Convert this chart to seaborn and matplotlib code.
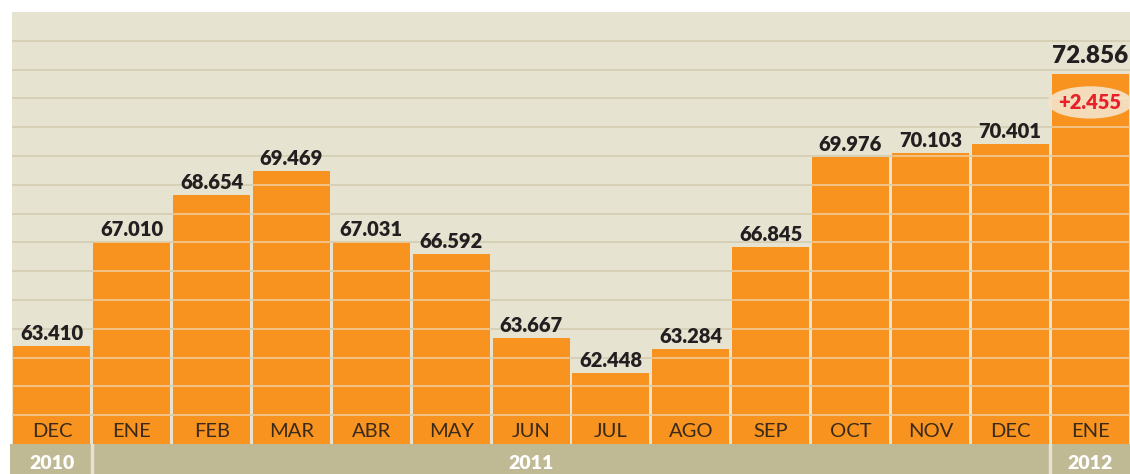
import numpy as np
import pandas as pd
import matplotlib.pyplot as plt
import seaborn as sns
from matplotlib.patches import Ellipse

# datos
meses = ['DEC', 'ENE', 'FEB', 'MAR', 'ABR', 'MAY', 'JUN', 'JUL', 'AGO',
         'SEP', 'OCT', 'NOV', 'DEC', 'ENE']
valores = [63.410, 67.010, 68.654, 69.469, 67.031, 66.592, 63.667, 62.448,
           63.284, 66.845, 69.976, 70.103, 70.401, 72.856]
anios = ['2010', '2011', '2012']
anio_pos = [0, 6, 13]          # donde va el texto del anio
anio_corte = [1, 13]           # primer mes de cada anio nuevo
variacion = '+2.455'

df = pd.DataFrame({'pos': np.arange(len(valores)), 'valor': valores})

sns.set_theme(style='white')
plt.rcParams['font.family'] = ['Lato', 'DejaVu Sans']

fondo = '#e7e3d1'
naranja = '#f7931e'
caqui = '#bfb994'

fig = plt.figure(figsize=(11.3, 4.74), dpi=100, facecolor='white')
ax = fig.add_axes([12 / 1130, 30 / 474, 1 - 12 / 1130, (444 - 12) / 474])
ax.set_facecolor(fondo)

sns.barplot(data=df, x='pos', y='valor', color=naranja, saturation=1,
            width=0.964, ax=ax, zorder=2, edgecolor='none', linewidth=0)

ax.set_xlim(-0.5, len(valores) - 0.5)
ax.set_ylim(60, 75)
for s in ax.spines.values():
    s.set_visible(False)
ax.set_xticks([])
ax.set_yticks([])
ax.set_xlabel('')
ax.set_ylabel('')

# lineas de rejilla
rejilla = np.arange(61, 75)
ax.hlines(rejilla, -0.5, len(valores) - 0.5, color='#d5d0b6', lw=1.4, zorder=1)
for p in ax.patches:
    lc = ax.hlines(rejilla, -0.5, len(valores) - 0.5, color='#f2c488', lw=1.4, zorder=3)
    lc.set_clip_path(p)

# etiquetas de valores y meses
for i, v in enumerate(valores):
    ultimo = i == len(valores) - 1
    ax.annotate(f'{v:.3f}', (i, v), xytext=(0, 13 if ultimo else 9),
                textcoords='offset points', ha='center', va='center',
                fontsize=17.5 if ultimo else 14.5, fontweight='heavy',
                color='#231f20', zorder=5)
    ax.text(i, 60.42, meses[i], ha='center', va='center', fontsize=14.5,
            color='#3b2a1a', zorder=5)

# variacion
ax.add_patch(Ellipse((len(valores) - 1, 71.86), 1.07, 1.12,
                     facecolor='#f4e5cc', edgecolor='none', alpha=0.9, zorder=4))
ax.text(len(valores) - 1, 71.86, variacion, ha='center', va='center',
        fontsize=14.5, fontweight='heavy', color='#e8202a', zorder=5)

# banda de anios
bx = fig.add_axes([10 / 1130, 0, 1 - 10 / 1130, 30 / 474])
bx.set_xlim(-0.5 - 2 / 79.86, len(valores) - 0.5)
bx.set_ylim(0, 1)
bx.set_facecolor(caqui)
for s in bx.spines.values():
    s.set_visible(False)
bx.set_xticks([])
bx.set_yticks([])
for nombre, x in zip(anios, anio_pos):
    bx.text(x, 0.36, nombre, ha='center', va='center', fontsize=14,
            fontweight='heavy', color='white')
for c in anio_corte:
    bx.axvline(c - 0.5, color=fondo, lw=2.5)

fig.savefig('out.png', dpi=100, facecolor='white')
